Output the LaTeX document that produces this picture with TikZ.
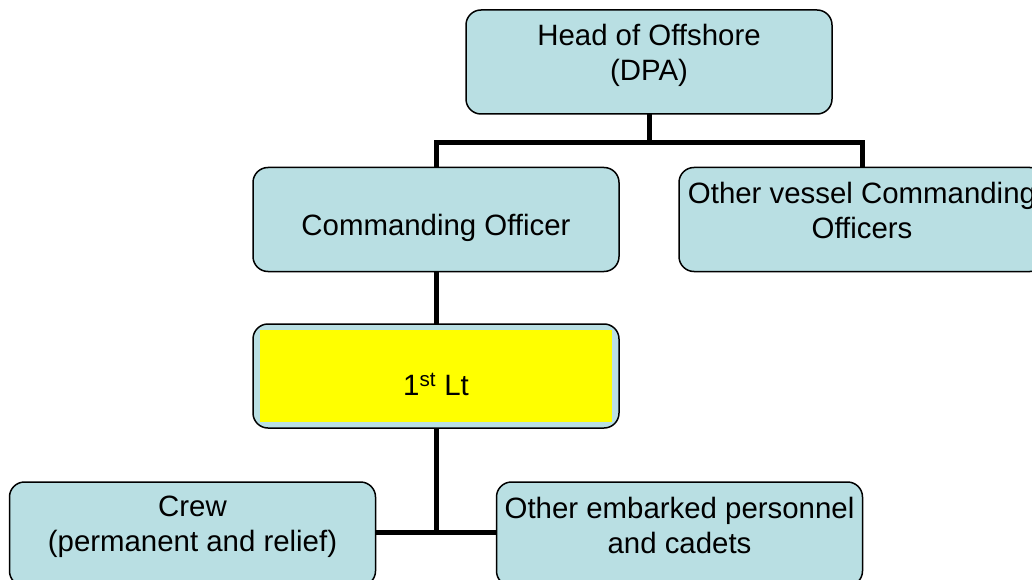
\documentclass[tikz,border=0pt]{standalone}
\usepackage{fontspec}
\setmainfont{Liberation Sans}
\definecolor{boxblue}{HTML}{B9DFE3}
\definecolor{hiyellow}{HTML}{FFFF00}
\tikzset{
  orgbox/.style={draw=black, line width=1.5pt, fill=boxblue, rounded corners=15pt,
    minimum width=366pt, minimum height=104pt, inner sep=0pt, outer sep=0pt},
  orgtext/.style={align=center, font=\fontsize{29.4}{35}\selectfont, inner sep=0pt},
  conn/.style={draw=black, line width=5pt}
}
\begin{document}
\begin{tikzpicture}[x=1pt,y=-1pt]
\useasboundingbox (0,0) rectangle (1032,580);
\clip (0,0) rectangle (1032,580);
% boxes
\node[orgbox] (head) at (649,62) {};
\node[orgbox] (co) at (436,219.5) {};
\node[orgbox] (other) at (862,219.5) {};
\node[orgbox] (lt) at (436,376) {};
\node[fill=hiyellow, minimum width=352pt, minimum height=92pt, inner sep=0pt] (ltin) at (436,376) {};
\node[orgbox] (crew) at (192.5,534) {};
\node[orgbox] (emb) at (679.5,534) {};
% texts
\node[orgtext] at (649,55) {Head of Offshore\\(DPA)};
\node[orgtext] at (436,228) {Commanding Officer};
\node[orgtext] at (862,210) {Other vessel Commanding\\Officers};
\node[orgtext] at (436,384.5) {1\textsuperscript{st} Lt};
\node[orgtext] at (192.5,527) {Crew\\(permanent and relief)};
\node[orgtext] at (679.5,525) {Other embarked personnel\\and cadets};
% connectors
\coordinate (j1) at (649,143);
\coordinate (j2) at (436,532);
\draw[conn] (head.south) -- (j1);
\draw[conn] (co.north) -- (co.north |- j1) -- (other.north |- j1) -- (other.north);
\draw[conn] (co.south) -- (lt.north);
\draw[conn] (lt.south) -- (j2);
\draw[conn] (crew.east |- j2) -- (emb.west |- j2);
\end{tikzpicture}
\end{document}
